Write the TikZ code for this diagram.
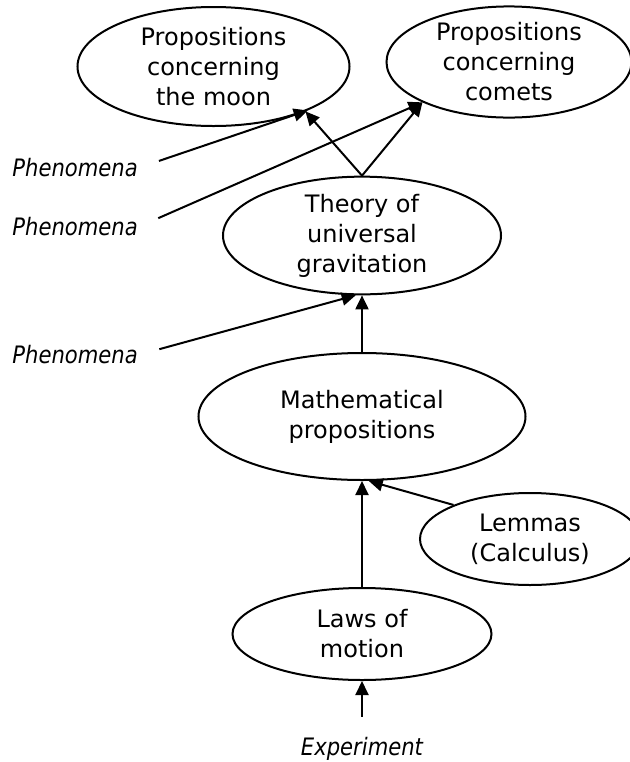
\documentclass[tikz,border=0pt]{standalone}
\usepackage{fontspec}
\setmainfont{DejaVu Sans}[ItalicFeatures={FakeStretch=0.88}]
\usetikzlibrary{arrows.meta,shapes.geometric}

\begin{document}
\begin{tikzpicture}[
  x=0.5pt, y=-0.5pt,
  every node/.style={font=\fontsize{12}{15}\selectfont, align=center},
  idea/.style={ellipse, draw, line width=1pt, inner sep=0pt},
  source/.style={font=\fontsize{12}{15}\selectfont\itshape, inner sep=0pt},
  conn/.style={line width=1pt, -{Triangle[length=7pt,width=6.5pt]}},
  fromsource/.style={conn, shorten <=11pt}
]

\useasboundingbox (0,0) rectangle (630,762);

%% ==== ellipses =======================================================
\node[idea, minimum width=136pt, minimum height=59.5pt] (moon) at (213.5,66.5)
  {Propositions\\concerning\\the moon};
\node[idea, minimum width=122.5pt, minimum height=55pt] (comets) at (509,62)
  {Propositions\\concerning\\comets};
\node[idea, minimum width=139pt, minimum height=57.5pt] (theory) at (362,235.5)
  {Theory of\\universal\\gravitation};
\node[idea, minimum width=163.5pt, minimum height=63.5pt] (math) at (362,416.5)
  {Mathematical\\propositions};
\node[idea, minimum width=110pt, minimum height=46pt] (lemmas) at (530,539)
  {Lemmas\\(Calculus)};
\node[idea, minimum width=129.5pt, minimum height=46pt] (laws) at (362,634)
  {Laws of\\motion};

%% ==== sources ========================================================
\node[source, anchor=west] (phen1) at (12,168) {Phenomena};
\node[source, anchor=west] (phen2) at (12,227) {Phenomena};
\node[source, anchor=west] (phen3) at (12,355) {Phenomena};
\node[source] (exper) at (362,749) {Experiment};

%% ==== arrows =========================================================
\draw[fromsource] (phen1.east) -- (moon.-25);
\draw[fromsource] (phen2.east) -- (comets.-155);
\draw[fromsource] (phen3.east) -- (theory.-96);
\draw[fromsource, shorten <=10pt] (exper.north) -- (laws.south);

\draw[conn] (theory.north) -- (moon.-26);
\draw[conn] (theory.north) -- (comets.-155);
\draw[conn] (math.north) -- (theory.south);
\draw[conn] (lemmas.156) -- (math.-84);
\draw[conn] (laws.north) -- (math.south);

\end{tikzpicture}
\end{document}
